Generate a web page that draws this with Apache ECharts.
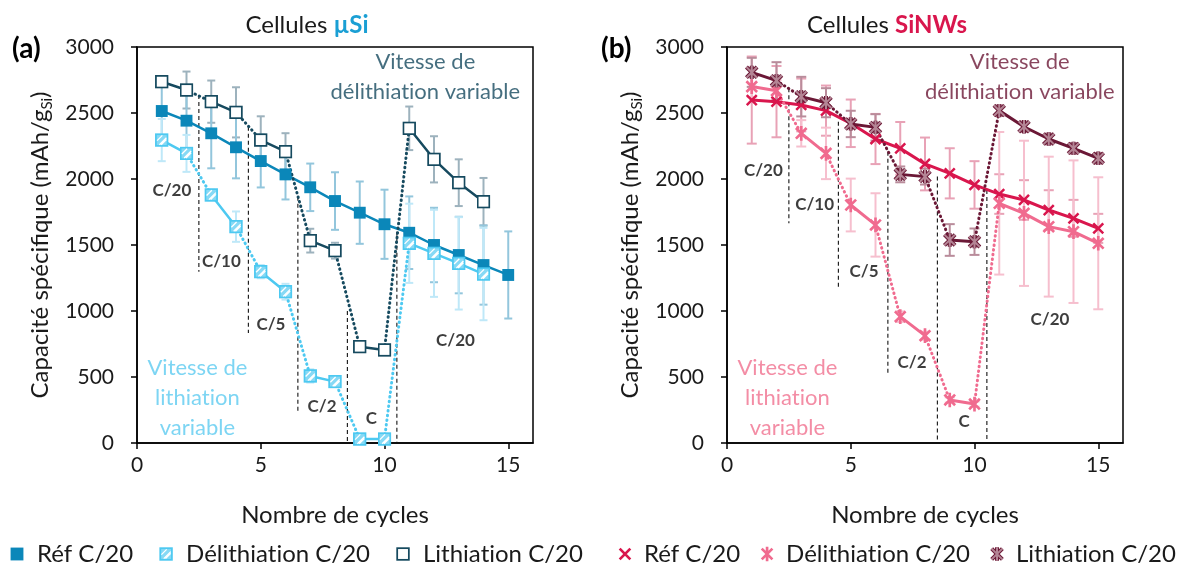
<!DOCTYPE html>
<html>
<head>
<meta charset="utf-8">
<script src="https://cdn.jsdelivr.net/npm/echarts@6/dist/echarts.min.js"></script>
<style>
  html, body { margin: 0; padding: 0; background: #fff; }
  #main { width: 1188px; height: 566px; }
</style>
</head>
<body>
<div id="main"></div>
<script>
// ---- data: specific capacity (mAh/g_Si) per cycle ----
const cycles = [1, 2, 3, 4, 5, 6, 7, 8, 9, 10, 11, 12, 13, 14, 15];

// µSi cells
const refA        = [2515, 2442, 2346, 2240, 2136, 2035, 1937, 1833, 1745, 1657, 1593, 1500, 1424, 1348, 1273];
const refAErr     = [250, 250, 265, 235, 200, 190, 180, 218, 236, 262, 275, 282, 290, 300, 330];
const delithA     = [2295, 2194, 1879, 1639, 1298, 1146, 508, 465, 30, 30, 1513, 1437, 1361, 1280];
const delithAErr  = [160, 140, 40, 115, 50, 60, 50, 30, 15, 15, 300, 330, 350, 350];
const lithA       = [2737, 2674, 2586, 2505, 2295, 2207, 1533, 1457, 730, 705, 2384, 2149, 1972, 1828];
const lithAErr    = [30, 140, 160, 190, 180, 140, 90, 60, 20, 20, 165, 175, 177, 180];

// SiNWs cells
const refB        = [2598, 2586, 2561, 2518, 2422, 2303, 2232, 2114, 2043, 1955, 1886, 1841, 1765, 1702, 1626];
const refBErr     = [330, 270, 200, 190, 180, 190, 200, 200, 190, 180, 150, 150, 150, 140, 110];
const delithB     = [2700, 2669, 2346, 2194, 1803, 1652, 957, 813, 326, 295, 1816, 1740, 1639, 1601, 1513];
const delithBErr  = [80, 80, 100, 195, 200, 240, 40, 30, 20, 20, 540, 550, 530, 540, 500];
const lithB       = [2808, 2745, 2624, 2578, 2417, 2391, 2035, 2018, 1538, 1525, 2518, 2396, 2303, 2232, 2157];
const lithBErr    = [110, 140, 150, 110, 100, 100, 60, 60, 120, 100, 40, 40, 40, 40, 40];

// cycles closing each C-rate block (C/20, C/10, C/5, C/2, C)
const blockEnds = [2, 4, 6, 8, 10];

// axis ticks
const xTicks = [0, 5, 10, 15];
const yMax = 3000, yStep = 500;

// C-rate labels and block separators (data coordinates)
const rateLabelsA = [
  { name: 'C/20', value: [1.41, 1911] }, { name: 'C/10', value: [3.41, 1374] },
  { name: 'C/5',  value: [5.41, 894] },  { name: 'C/2',  value: [7.48, 275] },
  { name: 'C',    value: [9.47, 189] },  { name: 'C/20', value: [12.87, 780] }
];
const rateLabelsB = [
  { name: 'C/20', value: [1.47, 2068] }, { name: 'C/10', value: [3.54, 1803] },
  { name: 'C/5',  value: [5.54, 1298] }, { name: 'C/2',  value: [7.48, 606] },
  { name: 'C',    value: [9.58, 162] },  { name: 'C/20', value: [13.05, 932] }
];
const separatorsA = [[2.5, 2636, 1298], [4.5, 2396, 833], [6.5, 1866, 225], [8.5, 1000, 0], [10.5, 1600, 0]];
const separatorsB = [[2.5, 2687, 1664], [4.5, 2434, 1172], [6.5, 2207, 528], [8.5, 2018, 0], [10.5, 1917, 0]];
const captionsA = [
  { name: 'Vitesse de\ndélithiation variable', value: [11.65, 2775], kind: 'lith' },
  { name: 'Vitesse de\nlithiation\nvariable', value: [2.44, 341], kind: 'delith' }
];
const captionsB = [
  { name: 'Vitesse de\ndélithiation variable', value: [11.83, 2775], kind: 'lith' },
  { name: 'Vitesse de\nlithiation\nvariable', value: [2.44, 341], kind: 'delith' }
];

// ---- styling ----
const FONT = 'Lato, "Open Sans", sans-serif';
// keep "t" and "i" as separate glyphs (Lato would otherwise join them)
const noLig = s => s.replace(/ti/g, 't\u200ci');
const C = {
  refA: '#0b87b9', delithA: '#4dc9f1', lithA: '#164a5f',
  refAErr: '#93c6dc', delithAErr: '#bfe8f8', lithAErr: '#9db2bd',
  refB: '#d9164d', delithB: '#f06b8f', lithB: '#6b1836',
  refBErr: '#e8a2b6', delithBErr: '#f6bfce', lithBErr: '#b98c9b'
};
const img = s => 'image://data:image/svg+xml;charset=utf-8,' + encodeURIComponent(s);
const SVG = '<svg xmlns="http://www.w3.org/2000/svg" width="24" height="24" viewBox="0 0 24 24">';
const sym = {
  refA: img(SVG + '<rect x="1" y="1" width="22" height="22" fill="' + C.refA + '"/></svg>'),
  delithA: img(SVG + '<rect x="2" y="2" width="20" height="20" fill="#86d9f5" stroke="' + C.delithA + '" stroke-width="3"/>' +
    '<path d="M4 13 L13 4 M8 20 L20 8 M11 20 L20 11" stroke="#fff" stroke-width="2.2"/></svg>'),
  lithA: img(SVG + '<rect x="2" y="2" width="20" height="20" fill="#fff" stroke="' + C.lithA + '" stroke-width="3"/></svg>'),
  refB: img(SVG + '<path d="M4 4 L20 20 M20 4 L4 20" stroke="' + C.refB + '" stroke-width="4"/></svg>'),
  delithB: img(SVG + '<path d="M4 4 L20 20 M20 4 L4 20 M12 1 L12 23" stroke="' + C.delithB + '" stroke-width="4"/></svg>'),
  lithB: img(SVG + '<path d="M4 4 L20 20 M20 4 L4 20 M12 2 L12 22" stroke="' + C.lithB + '" stroke-width="6"/>' +
    '<path d="M4 4 L20 20 M20 4 L4 20 M12 2 L12 22" stroke="#b48595" stroke-width="3"/></svg>')
};

// ---- builders ----
function solidData(vals) {
  const d = [];
  vals.forEach((v, i) => {
    const c = cycles[i];
    d.push([c, v]);
    if (blockEnds.includes(c) && i < vals.length - 1) d.push([c + 0.5, '-']);
  });
  return d;
}
function dottedData(vals) {
  const d = [];
  blockEnds.forEach(c => {
    if (c < vals.length) d.push([c, vals[c - 1]], [c + 1, vals[c]], [c + 1.5, '-']);
  });
  return d;
}
function errorSeries(g, vals, errs, color, cap) {
  return {
    type: 'custom', xAxisIndex: g, yAxisIndex: g, silent: true,
    data: vals.map((v, i) => [cycles[i], v - errs[i], v + errs[i]]),
    encode: { x: 0, y: [1, 2] },
    renderItem(params, api) {
      const x = api.value(0);
      const lo = api.coord([x, api.value(1)]);
      const hi = api.coord([x, api.value(2)]);
      const st = { stroke: color, lineWidth: 2 };
      return {
        type: 'group', children: [
          { type: 'line', shape: { x1: lo[0], y1: lo[1], x2: hi[0], y2: hi[1] }, style: st },
          { type: 'line', shape: { x1: lo[0] - cap, y1: lo[1], x2: lo[0] + cap, y2: lo[1] }, style: st },
          { type: 'line', shape: { x1: hi[0] - cap, y1: hi[1], x2: hi[0] + cap, y2: hi[1] }, style: st }
        ]
      };
    }
  };
}
function lineSeries(g, name, vals, color, symbol, size, width, withDots) {
  const out = [];
  if (withDots) {
    out.push({
      type: 'line', name, xAxisIndex: g, yAxisIndex: g, data: dottedData(vals),
      showSymbol: false, connectNulls: false, silent: true,
      lineStyle: { color, width: 3, type: [0.5, 4.2], cap: 'round' }
    });
  }
  out.push({
    type: 'line', name, xAxisIndex: g, yAxisIndex: g,
    data: withDots ? solidData(vals) : vals.map((v, i) => [cycles[i], v]),
    connectNulls: false, symbol, symbolSize: size, showSymbol: true, silent: true,
    itemStyle: { color }, lineStyle: { color, width }
  });
  return out;
}
function separatorSeries(g, seps) {
  const d = [];
  seps.forEach(s => d.push([s[0], s[1]], [s[0], s[2]], [s[0] + 0.01, '-']));
  return {
    type: 'line', xAxisIndex: g, yAxisIndex: g, data: d, showSymbol: false, silent: true,
    connectNulls: false, lineStyle: { color: '#111', width: 1.1, type: [4, 3] }
  };
}
function rateSeries(g, items) {
  return {
    type: 'scatter', xAxisIndex: g, yAxisIndex: g, silent: true, symbolSize: 0.1,
    itemStyle: { color: 'transparent' },
    data: items,
    label: {
      show: true, position: 'inside', formatter: p => p.name,
      fontFamily: FONT, fontSize: 17, fontWeight: 'bold', color: '#0d0d0d',
      align: 'center', verticalAlign: 'middle'
    }
  };
}
function captionSeries(g, items, colors) {
  return {
    type: 'scatter', xAxisIndex: g, yAxisIndex: g, silent: true, symbolSize: 0.1,
    itemStyle: { color: 'transparent' },
    data: items.map(it => ({
      name: noLig(it.name), value: it.value,
      label: { color: colors[it.kind] }
    })),
    label: {
      show: true, position: 'inside', formatter: p => p.name,
      fontFamily: FONT, fontSize: 22, lineHeight: 30, align: 'center', verticalAlign: 'middle'
    }
  };
}

// ---- axes ----
function xAxis(g) {
  return {
    type: 'value', gridIndex: g, min: 0, max: 16, interval: 5,
    name: 'Nombre de cycles', nameLocation: 'middle', nameGap: 60,
    nameTextStyle: { fontFamily: FONT, fontSize: 24, color: '#1a1a1a' },
    axisLine: { lineStyle: { color: '#000', width: 1.5 } },
    axisTick: { show: true, inside: false, length: 6, customValues: xTicks, lineStyle: { color: '#000', width: 1.5 } },
    axisLabel: { customValues: xTicks, formatter: v => (xTicks.includes(v) ? String(v) : ''),
      fontFamily: FONT, fontSize: 21, color: '#1a1a1a', margin: 12 },
    splitLine: { show: false }
  };
}
function yAxis(g) {
  return {
    type: 'value', gridIndex: g, min: 0, max: yMax, interval: yStep,
    name: '{m|Capacité spécifique (mAh/g}{s|Si}{m|)}', nameLocation: 'middle', nameGap: 82, nameRotate: 90,
    nameTextStyle: {
      rich: {
        m: { fontFamily: FONT, fontSize: 24, color: '#1a1a1a', lineHeight: 30 },
        s: { fontFamily: FONT, fontSize: 15, color: '#1a1a1a', lineHeight: 14, verticalAlign: 'bottom' }
      }
    },
    axisLine: { show: true, lineStyle: { color: '#000', width: 1.5 } },
    axisTick: { show: true, inside: false, length: 6, lineStyle: { color: '#000', width: 1.5 } },
    axisLabel: { formatter: v => String(v), fontFamily: FONT, fontSize: 21, color: '#1a1a1a', margin: 23 },
    splitLine: { show: false }
  };
}

// legend entries (SiNWs names carry a trailing space to stay distinct)
const legendText = {};
['Réf C/20', 'Délithiation C/20', 'Lithiation C/20'].forEach(n => {
  legendText[n] = noLig(n);
  legendText[n + ' '] = noLig(n);
});

const option = {
  animation: false,
  backgroundColor: '#fff',
  title: [
    { text: 'Cellules {b|µSi}', left: 302, top: 8, textAlign: 'center',
      textStyle: { fontFamily: FONT, fontSize: 24, fontWeight: 'normal', color: '#1a1a1a',
        rich: { b: { fontFamily: FONT, fontSize: 24, fontWeight: 'bold', color: '#1a9fd4' } } } },
    { text: 'Cellules {b|SiNWs}', left: 882, top: 8, textAlign: 'center',
      textStyle: { fontFamily: FONT, fontSize: 24, fontWeight: 'normal', color: '#1a1a1a',
        rich: { b: { fontFamily: FONT, fontSize: 24, fontWeight: 'bold', color: C.refB } } } },
    { text: '(a)', left: 7, top: 30, textStyle: { fontFamily: FONT, fontSize: 28, fontWeight: 'bold', color: '#000' } },
    { text: '(b)', left: 596, top: 30, textStyle: { fontFamily: FONT, fontSize: 28, fontWeight: 'bold', color: '#000' } }
  ],
  grid: [
    { left: 137, top: 47, width: 396, height: 396, show: true, borderColor: '#000', borderWidth: 1.5, backgroundColor: 'transparent' },
    { left: 727, top: 47, width: 396, height: 396, show: true, borderColor: '#000', borderWidth: 1.5, backgroundColor: 'transparent' }
  ],
  xAxis: [xAxis(0), xAxis(1)],
  yAxis: [yAxis(0), yAxis(1)],
  legend: [
    {
      left: 5, top: 537, width: 590, itemWidth: 14, itemHeight: 14, itemGap: 26, selectedMode: false,
      textStyle: { fontFamily: FONT, fontSize: 24, color: '#1a1a1a', padding: [0, 0, 0, 8] },
      formatter: n => legendText[n],
      data: [
        { name: 'Réf C/20', icon: sym.refA },
        { name: 'Délithiation C/20', icon: sym.delithA },
        { name: 'Lithiation C/20', icon: sym.lithA }
      ]
    },
    {
      left: 612, top: 537, width: 600, itemWidth: 16, itemHeight: 16, itemGap: 19, selectedMode: false,
      textStyle: { fontFamily: FONT, fontSize: 24, color: '#1a1a1a', padding: [0, 0, 0, 6] },
      formatter: n => legendText[n],
      data: [
        { name: 'Réf C/20 ', icon: sym.refB },
        { name: 'Délithiation C/20 ', icon: sym.delithB },
        { name: 'Lithiation C/20 ', icon: sym.lithB }
      ]
    }
  ],
  series: [
    // µSi panel
    errorSeries(0, lithA, lithAErr, C.lithAErr, 4),
    errorSeries(0, refA, refAErr, C.refAErr, 4),
    errorSeries(0, delithA, delithAErr, C.delithAErr, 4),
    separatorSeries(0, separatorsA),
    ...lineSeries(0, 'Réf C/20', refA, C.refA, sym.refA, 13, 2.5, false),
    ...lineSeries(0, 'Lithiation C/20', lithA, C.lithA, sym.lithA, 14, 2.5, true),
    ...lineSeries(0, 'Délithiation C/20', delithA, C.delithA, sym.delithA, 14, 2.5, true),
    rateSeries(0, rateLabelsA),
    captionSeries(0, captionsA, { lith: '#164a5f', delith: '#5ccbf0' }),
    // SiNWs panel
    errorSeries(1, refB, refBErr, C.refBErr, 5),
    errorSeries(1, delithB, delithBErr, C.delithBErr, 5),
    errorSeries(1, lithB, lithBErr, C.lithBErr, 5),
    separatorSeries(1, separatorsB),
    ...lineSeries(1, 'Réf C/20 ', refB, C.refB, sym.refB, 15, 3, false),
    ...lineSeries(1, 'Délithiation C/20 ', delithB, C.delithB, sym.delithB, 16, 3, true),
    ...lineSeries(1, 'Lithiation C/20 ', lithB, C.lithB, sym.lithB, 16, 3, true),
    rateSeries(1, rateLabelsB),
    captionSeries(1, captionsB, { lith: '#6b1836', delith: '#f0708f' })
  ]
};

const chart = echarts.init(document.getElementById('main'), null, { renderer: 'canvas' });
chart.setOption(option);
</script>
</body>
</html>
